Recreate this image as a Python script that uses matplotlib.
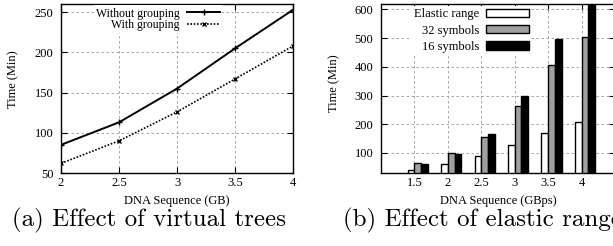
import numpy as np
import matplotlib
matplotlib.use("Agg")
import matplotlib.pyplot as plt

# (a) effect of virtual trees
sizes_a = [2, 2.5, 3, 3.5, 4]
without_grouping = [85, 113, 155, 205, 253]
with_grouping = [62, 90, 126, 167, 208]

# (b) effect of elastic range
sizes_b = [1.5, 2, 2.5, 3, 3.5, 4]
elastic_range = [42, 63, 88, 126, 168, 208]
symbols_32 = [65, 100, 156, 262, 405, 503]
symbols_16 = [62, 97, 166, 300, 498, 700]

plt.rcParams['font.family'] = 'Liberation Serif'
plt.rcParams['font.size'] = 9

fig = plt.figure(figsize=(6.13, 2.46), dpi=100)
ax1 = fig.add_axes([61/613, 73/246, 232.3/613, 169/246])
ax2 = fig.add_axes([381/613, 73/246, 234/613, 169/246])

grid_style = dict(color='#999999', linestyle=(0, (3, 3)), linewidth=0.6)

for ax in (ax1, ax2):
    ax.tick_params(direction='in', top=True, right=True, length=4, width=0.8, labelsize=9)
    ax.tick_params(axis='x', pad=2.7)
    ax.tick_params(axis='y', pad=5.5)
    for s in ax.spines.values():
        s.set_linewidth(1.0)
    ax.grid(True, **grid_style)
    ax.set_axisbelow(True)

# left panel
ax1.plot(sizes_a, without_grouping, color='black', lw=1.4, marker='+', ms=4, mew=1, label='Without grouping')
ax1.plot(sizes_a, with_grouping, color='black', lw=1.2, ls=(0, (1, 1)), marker='x', ms=3.5, mew=1, label='With grouping')
ax1.set_xlim(2, 4)
ax1.set_ylim(50, 260)
ax1.set_xticks(sizes_a)
ax1.set_xticklabels(['2', '2.5', '3', '3.5', '4'])
ax1.set_yticks([50, 100, 150, 200, 250])
ax1.set_xlabel('DNA Sequence (GB)')
ax1.set_ylabel('Time (Min)')
ax1.xaxis.set_label_coords(0.5, -0.13)
ax1.yaxis.set_label_coords(-0.178, 0.556)
ax1.legend(loc='upper right', bbox_to_anchor=(0.695, 0.993), markerfirst=False, numpoints=1,
           fontsize=8.5, handlelength=2.8, frameon=True, fancybox=False, framealpha=1, edgecolor='none',
           borderpad=0.2, labelspacing=-0.05, handletextpad=0.6, borderaxespad=0)

# right panel
x = np.array(sizes_b)
w = 0.1
ax2.bar(x - 0.05, elastic_range, w, color='white', edgecolor='black', lw=1, label='Elastic range')
ax2.bar(x + 0.05, symbols_32, w, color='#a0a0a0', edgecolor='black', lw=1, label='32 symbols')
ax2.bar(x + 0.15, symbols_16, w, color='black', edgecolor='black', lw=1, label='16 symbols')
ax2.set_xlim(1.0, 4.5)
ax2.set_ylim(30, 619)
ax2.set_xticks(sizes_b)
ax2.set_xticklabels(['1.5', '2', '2.5', '3', '3.5', '4'])
ax2.set_yticks([100, 200, 300, 400, 500, 600])
ax2.set_xlabel('DNA Sequence (GBps)')
ax2.set_ylabel('Time (Min)')
ax2.xaxis.set_label_coords(0.5, -0.13)
ax2.yaxis.set_label_coords(-0.175, 0.53)
ax2.legend(loc='upper right', bbox_to_anchor=(0.643, 0.99), markerfirst=False,
           handlelength=3.4, handleheight=0.65, frameon=True, fancybox=False, framealpha=1,
           edgecolor='none', borderpad=0.2, labelspacing=0.35, handletextpad=0.6, borderaxespad=0)

# captions
fig.text(149 / 613, 1 - 220 / 246, '(a) Effect of virtual trees', family='cmr10', fontsize=18,
         ha='center', va='center')
fig.text(343 / 613, 1 - 220 / 246, '(b) Effect of elastic range', family='cmr10', fontsize=18,
         ha='left', va='center')

fig.savefig('out.png', dpi=100)
